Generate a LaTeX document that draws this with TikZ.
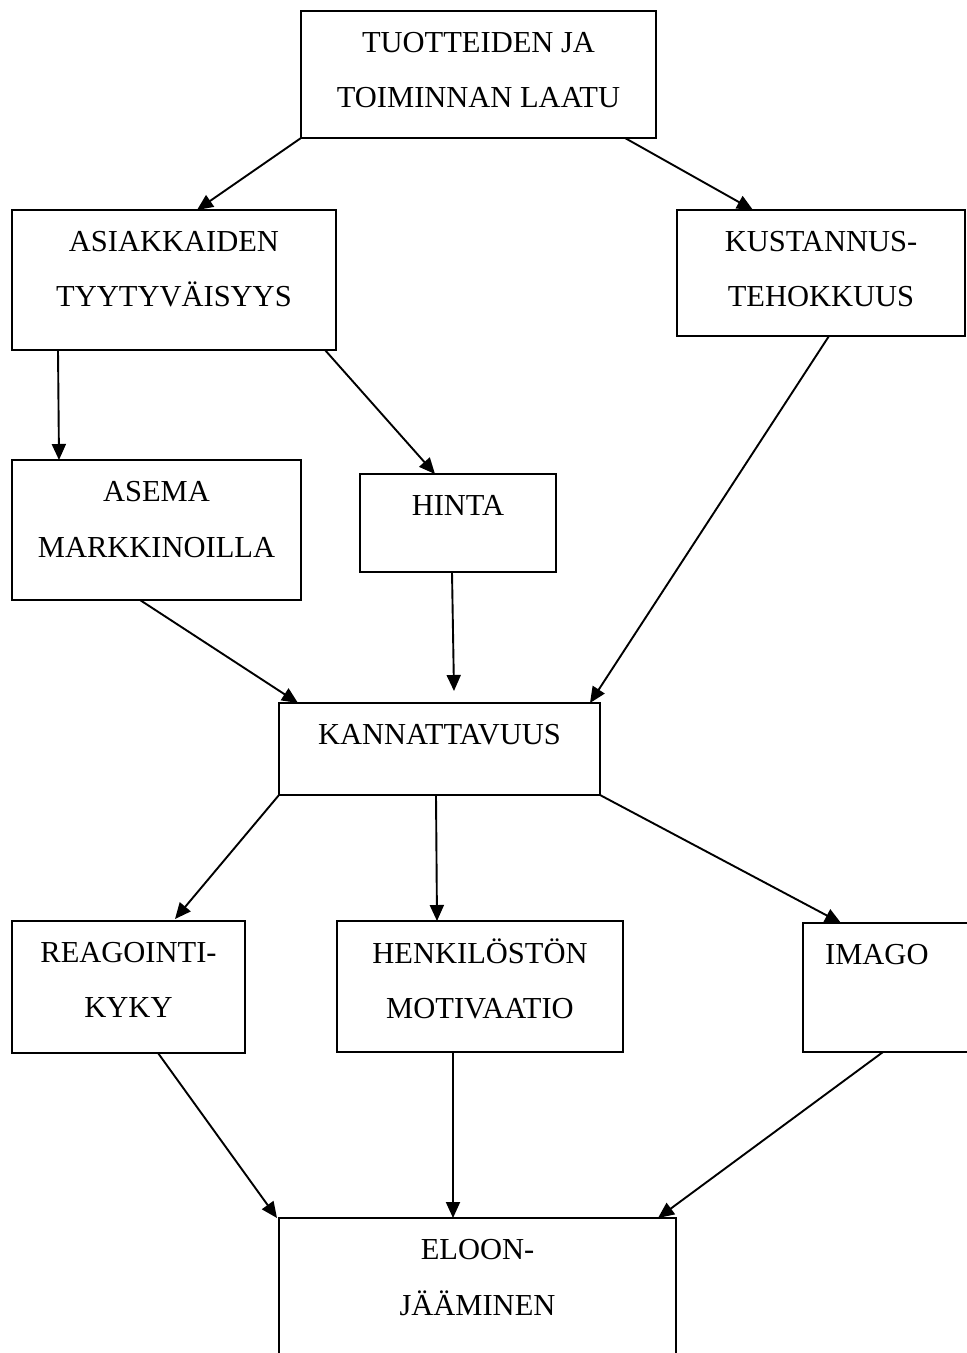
\documentclass[tikz,border=0pt]{standalone}
\usepackage{fontspec}
\setmainfont{Liberation Serif}
\usetikzlibrary{arrows.meta,calc}
\begin{document}
\begin{tikzpicture}[x=1pt,y=-1pt,
  box/.style={draw=black,line width=1.8pt,rectangle,anchor=north west,inner sep=0pt,outer sep=0pt},
  lbl/.style={anchor=base,inner sep=0pt,font=\fontsize{30.5}{36}\selectfont},
  conn/.style={line width=1.9pt,-{Triangle[length=16pt,width=14pt]}}]
\useasboundingbox (0,0) rectangle (967,1353);
\clip (0,0) rectangle (967,1353);
\fill[white] (0,0) rectangle (967,1353);
% boxes
\node[box,minimum width=355pt,minimum height=127pt] (top) at (301,11) {};
\node[box,minimum width=324pt,minimum height=140pt] (asia) at (12,210) {};
\node[box,minimum width=288pt,minimum height=126pt] (kust) at (677,210) {};
\node[box,minimum width=289pt,minimum height=140pt] (asema) at (12,460) {};
\node[box,minimum width=196pt,minimum height=98pt] (hinta) at (360,474) {};
\node[box,minimum width=321pt,minimum height=92pt] (kann) at (279,703) {};
\node[box,minimum width=233pt,minimum height=132pt] (reag) at (12,921) {};
\node[box,minimum width=286pt,minimum height=131pt] (henk) at (337,921) {};
\node[box,minimum width=190pt,minimum height=129pt] (imago) at (803,923) {};
\node[box,minimum width=397pt,minimum height=200pt] (eloon) at (279,1218) {};
% texts
\node[lbl] (t1a) at ($(top.north)+(0,41)$) {TUOTTEIDEN JA};
\node[lbl] (t1b) at ($(top.north)+(0,96)$) {TOIMINNAN LAATU};
\node[lbl] (t2a) at ($(asia.north)+(0,41)$) {ASIAKKAIDEN};
\node[lbl] (t2b) at ($(asia.north)+(0,96)$) {TYYTYVÄISYYS};
\node[lbl] (t3a) at ($(kust.north)+(0,41)$) {KUSTANNUS-};
\node[lbl] (t3b) at ($(kust.north)+(0,96)$) {TEHOKKUUS};
\node[lbl] (t4a) at ($(asema.north)+(0,41)$) {ASEMA};
\node[lbl] (t4b) at ($(asema.north)+(0,97)$) {MARKKINOILLA};
\node[lbl] (t5a) at ($(hinta.north)+(0,41)$) {HINTA};
\node[lbl] (t6a) at ($(kann.north)+(0,41)$) {KANNATTAVUUS};
\node[lbl] (t7a) at ($(reag.north)+(0,41)$) {REAGOINTI-};
\node[lbl] (t7b) at ($(reag.north)+(0,96)$) {KYKY};
\node[lbl] (t8a) at ($(henk.north)+(0,42)$) {HENKILÖSTÖN};
\node[lbl] (t8b) at ($(henk.north)+(0,97)$) {MOTIVAATIO};
\node[lbl,anchor=base west] (t9a) at ($(imago.north west)+(22,41)$) {IMAGO};
\node[lbl] (t10a) at ($(eloon.north)+(0,41)$) {ELOON-};
\node[lbl] (t10b) at ($(eloon.north)+(0,97)$) {JÄÄMINEN};
% connectors
\draw[conn] (top.south west) -- ($(asia.north west)+(185,0)$);
\draw[conn] ($(top.south west)+(324,0)$) -- ($(kust.north west)+(76,0)$);
\draw[conn] ($(asia.south west)+(46,0)$) -- ($(asema.north west)+(47,0)$);
\draw[conn] ($(asia.south east)+(-11,0)$) -- ($(hinta.north west)+(75,0)$);
\draw[conn] ($(kust.south west)+(152,0)$) -- ($(kann.north east)+(-10,0)$);
\draw[conn] ($(asema.south west)+(128,0)$) -- ($(kann.north west)+(19,0)$);
\draw[conn] ($(hinta.south west)+(92,0)$) -- ($(kann.north west)+(175,-12)$);
\draw[conn] (kann.south west) -- ($(reag.north west)+(163,-2)$);
\draw[conn] ($(kann.south west)+(157,0)$) -- ($(henk.north west)+(100,0)$);
\draw[conn] (kann.south east) -- ($(imago.north west)+(38,0)$);
\draw[conn] ($(reag.south west)+(146,0)$) -- ($(eloon.north west)+(-2,0)$);
\draw[conn] ($(henk.south west)+(116,0)$) -- ($(eloon.north west)+(174,0)$);
\draw[conn] ($(imago.south west)+(80,0)$) -- ($(eloon.north east)+(-18,0)$);
\end{tikzpicture}
\end{document}
